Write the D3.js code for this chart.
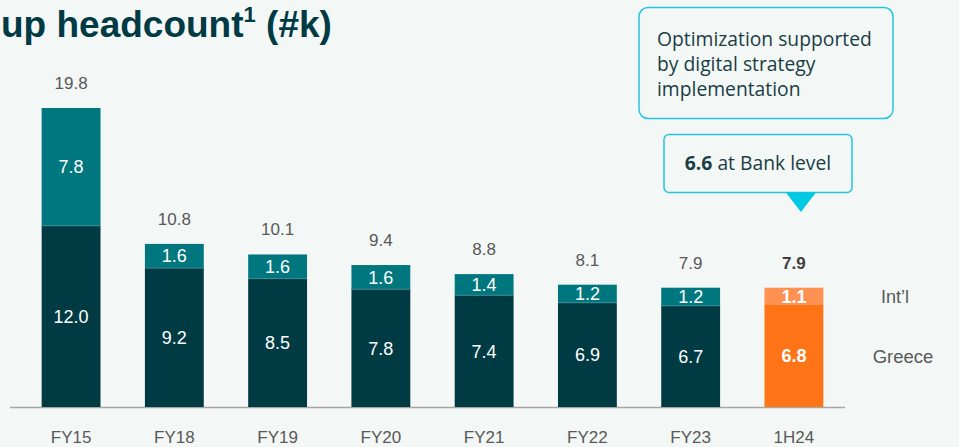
<!DOCTYPE html>
<html><head><meta charset="utf-8">
<script src="https://cdn.jsdelivr.net/npm/d3@7"></script>
<style>
html,body{margin:0;padding:0;background:#f3f7f5;}
svg{display:block;}
</style></head>
<body>
<svg id="chart" width="959" height="447"></svg>
<script>
const categories = ["FY15","FY18","FY19","FY20","FY21","FY22","FY23","1H24"];
const greece = [12.0, 9.2, 8.5, 7.8, 7.4, 6.9, 6.7, 6.8];
const intl = [7.8, 1.6, 1.6, 1.6, 1.4, 1.2, 1.2, 1.1];
const totals = [19.8, 10.8, 10.1, 9.4, 8.8, 8.1, 7.9, 7.9];
const seriesNames = ["Int\u2019l", "Greece"];

const svg = d3.select("#chart");
const font = "'Liberation Sans', Arial, sans-serif";
const baseY = 407;
const x = d3.scaleBand().domain(categories).range([21, 844]).paddingInner(0.43).paddingOuter(0.2);
const y = d3.scaleLinear().domain([0, 19.8]).range([baseY, 108]);

const colGreece = "#003a43", colIntl = "#00777f";
const colGreeceHi = "#ff7417", colIntlHi = "#ff9252";
const last = categories.length - 1;

// Title (clipped at left, as in the original slide)
const tSize = 37;
const title = svg.append("text").attr("y", 37)
  .attr("font-family", font)
  .attr("font-weight", 700).attr("font-size", tSize).attr("fill", "#003b45");
title.append("tspan").text("Group headcount");
title.append("tspan").attr("font-size", 22).attr("dy", -15).text("1");
title.append("tspan").attr("dy", 15).text(" (#k)");
const full = svg.append("text").attr("font-family", font).attr("font-weight",700).attr("font-size",tSize).text("Gro");
const w = full.node().getComputedTextLength(); full.remove();
title.attr("x", -w + 1);

// axis line
svg.append("line").attr("x1", 10).attr("x2", 845).attr("y1", baseY + 0.5).attr("y2", baseY + 0.5)
  .attr("stroke", "#a6a6a6").attr("stroke-width", 1.5);

const g = svg.append("g");
categories.forEach((c, i) => {
  const bx = x(c), bw = x.bandwidth();
  const hi = i === last;
  g.append("rect").attr("x", bx).attr("width", bw)
    .attr("y", y(greece[i])).attr("height", baseY - y(greece[i]))
    .attr("fill", hi ? colGreeceHi : colGreece);
  g.append("rect").attr("x", bx).attr("width", bw)
    .attr("y", y(greece[i] + intl[i])).attr("height", y(greece[i]) - y(greece[i] + intl[i]))
    .attr("fill", hi ? colIntlHi : colIntl);
  g.append("line").attr("x1", bx).attr("x2", bx + bw).attr("y1", y(greece[i])).attr("y2", y(greece[i]))
    .attr("stroke", hi ? "#ff9252" : "#3f8a8f").attr("stroke-width", 0.8);
  const cx = bx + bw / 2;
  g.append("text").attr("x", cx).attr("y", (baseY + y(greece[i])) / 2 + 6.5)
    .attr("text-anchor", "middle").attr("font-family", font).attr("font-size", 18)
    .attr("font-weight", hi ? 700 : 400).attr("fill", "#ffffff")
    .text(d3.format(".1f")(greece[i]));
  g.append("text").attr("x", cx).attr("y", (y(greece[i]) + y(greece[i] + intl[i])) / 2 + 6.5)
    .attr("text-anchor", "middle").attr("font-family", font).attr("font-size", 18)
    .attr("font-weight", hi ? 700 : 400).attr("fill", "#ffffff")
    .text(d3.format(".1f")(intl[i]));
  g.append("text").attr("x", cx).attr("y", y(totals[i]) - 19)
    .attr("text-anchor", "middle").attr("font-family", font).attr("font-size", 17)
    .attr("font-weight", hi ? 700 : 400).attr("fill", hi ? "#404040" : "#595959")
    .text(d3.format(".1f")(totals[i]));
  g.append("text").attr("x", cx).attr("y", 443)
    .attr("text-anchor", "middle").attr("font-family", font)
    .attr("font-size", 17).attr("fill", "#595959")
    .text(c);
});

// Legend labels at right
svg.append("text").attr("x", 895).attr("y", (y(greece[last]) + y(totals[last])) / 2 + 6.5)
  .attr("text-anchor","middle").attr("font-family", font).attr("font-size", 18).attr("fill", "#595959")
  .text(seriesNames[0]);
svg.append("text").attr("x", 903).attr("y", 363)
  .attr("text-anchor","middle").attr("font-family", font).attr("font-size", 18.5).attr("fill", "#595959")
  .text(seriesNames[1]);

// Callout 1
svg.append("rect").attr("x", 639).attr("y", 7.5).attr("width", 254).attr("height", 111).attr("rx", 9)
  .attr("fill", "#f3f7f5").attr("stroke", "#24c6df").attr("stroke-width", 1.5);
const c1 = ["Optimization supported", "by digital strategy", "implementation"];
c1.forEach((t, i) => {
  svg.append("text").attr("x", 657).attr("y", 46 + i * 25)
    .attr("font-family", "'Open Sans', 'Liberation Sans', sans-serif").attr("font-size", 19.3)
    .attr("textLength", null)
    .attr("fill", "#1a3d45").text(t);
});

// Callout 2
svg.append("rect").attr("x", 664).attr("y", 134.5).attr("width", 188).attr("height", 58).attr("rx", 5)
  .attr("fill", "#f3f7f5").attr("stroke", "#24c6df").attr("stroke-width", 1.5);
const c2 = svg.append("text").attr("x", 758).attr("y", 170).attr("text-anchor","middle")
  .attr("font-family", "'Open Sans', 'Liberation Sans', sans-serif").attr("font-size", 19.3).attr("fill", "#1a3d45");
c2.append("tspan").attr("font-weight", 700).text("6.6");
c2.append("tspan").text(" at Bank level");
const tx = x(categories[last]) + x.bandwidth() / 2 + 7;
svg.append("path").attr("d", `M${tx-15},192.5 L${tx+15},192.5 L${tx},212 Z`).attr("fill", "#00c9e3");
</script>
</body></html>
